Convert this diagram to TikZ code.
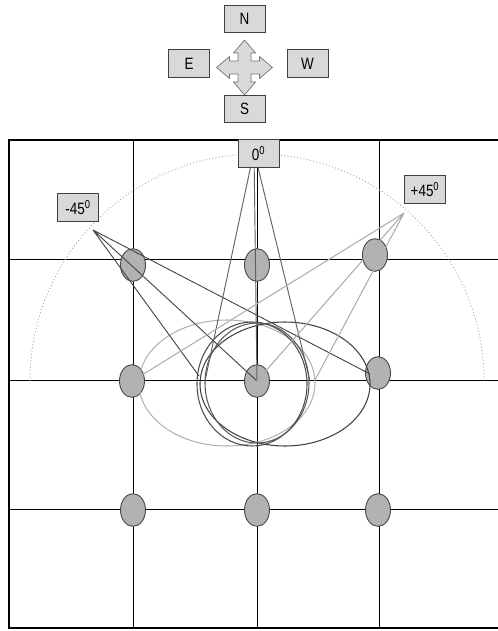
\documentclass[tikz,border=0pt]{standalone}
\usepackage{fontspec}
\setmainfont{Liberation Sans}[FakeStretch=0.82]
\usetikzlibrary{shapes.geometric}

\begin{document}
\begin{tikzpicture}[x=0.03cm, y=-0.03cm, font=\fontsize{14}{16}\selectfont,
                    lbl/.style={draw=black!75, fill=black!15, line width=0.6pt,
                                minimum width=1.23cm, minimum height=0.82cm, inner sep=0pt},
                    spot/.style={ellipse, draw=black!70, fill=black!30, line width=0.8pt,
                                 minimum width=0.75cm, minimum height=0.98cm, inner sep=0pt},
                    gline/.style={line width=0.65pt},
                    bm/.style={line width=0.8pt, black!72},
                    bz/.style={line width=0.8pt, black!62},
                    bp/.style={line width=0.9pt, black!32},
                    fp/.style={line width=0.9pt}]
  \useasboundingbox (0,0) rectangle (498,631);
  % compass
  \begin{scope}[shift={(244.5,67.5)}]
    \draw[draw=black!55, fill=black!15, line width=0.6pt, line join=round]
      (0,-27.5) -- (11,-14.5) -- (6.5,-14.5) -- (6.5,-6.5) -- (15,-6.5) -- (15,-11)
      -- (28,0) -- (15,11) -- (15,6.5) -- (6.5,6.5) -- (6.5,14.5) -- (11,14.5)
      -- (0,27.5) -- (-11,14.5) -- (-6.5,14.5) -- (-6.5,6.5) -- (-15,6.5) -- (-15,11)
      -- (-28,0) -- (-15,-11) -- (-15,-6.5) -- (-6.5,-6.5) -- (-6.5,-14.5) -- (-11,-14.5) -- cycle;
  \end{scope}
  \node[lbl] (north) at (244.5,19) {N};
  \node[lbl] (east)  at (189,63.5) {E};
  \node[lbl] (west)  at (307.5,63.5) {W};
  \node[lbl] (south) at (244.5,109) {S};
  % grid and frame
  \foreach \x in {133,257,379} \draw[gline] (\x,140) -- (\x,628);
  \foreach \y in {259,380,509} \draw[gline] (9,\y) -- (498,\y);
  \draw[line width=2pt] (498,140) -- (9,140) -- (9,628) -- (498,628);
  \draw[black!35, dotted, line width=0.8pt] (30,381) arc[start angle=180, end angle=360, radius=227];
  % spots
  \foreach \n/\x/\y in {s11/133/265, s12/257/265, s13/375/255,
                        s21/132/381, s22/257/381, s23/378/373,
                        s31/133/510, s32/257/510, s33/378/510}
    \node[spot] (\n) at (\x,\y) {};
  % footprints
  \draw[fp, black!30] (227,383) ellipse [x radius=88, y radius=63];
  \draw[fp, black!75] (285,384) ellipse [x radius=85, y radius=62];
  \draw[fp, black!70] (252,384) ellipse [x radius=55, y radius=62];
  \draw[fp, black!65] (257,383) ellipse [x radius=52, y radius=60];
  % beams
  \coordinate (srcM) at (93,230);
  \coordinate (srcZ) at (254,151);
  \coordinate (srcP) at (404,213);
  \coordinate (wideL) at (199,376);
  \coordinate (wideR) at (370,374);
  \coordinate (ringL) at (205,381);
  \coordinate (ringR) at (310,381);
  \coordinate (lightL) at (142,375);
  \coordinate (lightR) at (315,380);
  \draw[bm] (srcM) -- (wideL) (srcM) -- (s22.center) (srcM) -- (wideR);
  \draw[bz] (srcZ) -- (ringL) (srcZ) -- (s22.center) (srcZ) -- (ringR);
  \draw[bp] (srcP) -- (lightL) (srcP) -- (s22.center) (srcP) -- (lightR);
  % angle labels
  \node[lbl] (degM) at (78,207.5)    {-45\textsuperscript{0}};
  \node[lbl] (degZ) at (258.5,153.5) {0\textsuperscript{0}};
  \node[lbl] (degP) at (425,189.5)   {+45\textsuperscript{0}};
\end{tikzpicture}
\end{document}
